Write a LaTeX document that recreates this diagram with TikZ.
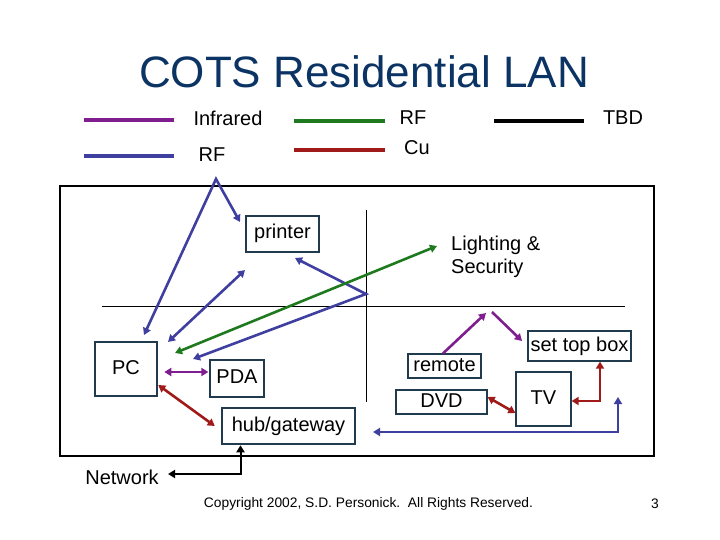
\documentclass[tikz,border=0pt]{standalone}
\usepackage{fontspec}
\setmainfont{Liberation Sans}
\usetikzlibrary{arrows.meta}
\definecolor{titleblue}{HTML}{0B3363}
\definecolor{irpurple}{HTML}{7F1F8F}
\definecolor{rfblue}{HTML}{3F3FA0}
\definecolor{rfgreen}{HTML}{1F7A1F}
\definecolor{cured}{HTML}{A01A1A}
\definecolor{boxedge}{HTML}{1F3B4D}

\begin{document}
\begin{tikzpicture}[x=1pt,y=-1pt,
    >={Triangle[length=7pt,width=8pt]},
    lbl/.style={font=\fontsize{20}{23}\selectfont},
    devbox/.style={lbl,draw=boxedge,line width=1.2pt,inner sep=0pt,
        text height=14pt,text depth=4pt},
    hostbox/.style={devbox,line width=2.5pt},
    keyline/.style={line width=3.5pt},
    irlink/.style={draw=irpurple,line width=2.6pt},
    rflink/.style={draw=rfblue,line width=2.6pt},
    rfglink/.style={draw=rfgreen,line width=2.6pt},
    culink/.style={draw=cured,line width=2.6pt}]
\useasboundingbox (0,0) rectangle (720,540);
% title
\node[text=titleblue,font=\fontsize{44}{50}\selectfont] (title) at (364,72) {COTS Residential LAN};
% legend
\draw[keyline,irpurple] (84,120) -- (174,120);
\node[lbl] (kir) at (228,118) {Infrared};
\draw[keyline,rfblue] (84,156) -- (174,156);
\node[lbl] (krf) at (212,155) {RF};
\draw[keyline,rfgreen] (294,121) -- (385,121);
\node[lbl] (krfg) at (413,118) {RF};
\draw[keyline,cured] (294,150) -- (385,150);
\node[lbl] (kcu) at (417,148) {Cu};
\draw[keyline,black] (494,121) -- (584,121);
\node[lbl] (ktbd) at (623,118) {TBD};
% house and its quarters
\draw[line width=1.8pt] (60,186) rectangle (654,456);
\draw[line width=1pt] (366,210) -- (366,402);
\draw[line width=1pt] (102,306) -- (625,306);
% devices
\node[devbox,minimum width=73pt,minimum height=36pt] (printer) at (282.5,234) {printer};
\node[hostbox,minimum width=62pt,minimum height=54pt] (pc) at (126,369) {PC};
\node[devbox,minimum width=54pt,minimum height=37pt] (pda) at (237,378.5) {PDA};
\node[hostbox,minimum width=133pt,minimum height=36pt] (hub) at (288.5,426) {hub/gateway};
\node[lbl,align=left,anchor=west,inner sep=0pt] (lighting) at (451,256.5) {Lighting \&\\Security};
\node[devbox,minimum width=73pt,minimum height=24pt] (remote) at (444.5,366) {remote};
\node[devbox,minimum width=103pt,minimum height=30pt] (stb) at (579.5,346) {set top box};
\node[devbox,minimum width=91pt,minimum height=24pt] (dvd) at (441.5,402) {DVD};
\node[devbox,minimum width=55pt,minimum height=54pt] (tv) at (543.5,399) {TV};
\node[lbl] (network) at (122,477) {Network};
% free ends of the links
\coordinate (rfpeak) at (216,179);
\coordinate (pctop) at (144,335);
\coordinate (prleft) at (240,222);
\coordinate (prlow) at (245,270);
\coordinate (pcne) at (168,342);
\coordinate (rfbend) at (366,294);
\coordinate (prright) at (295,258);
\coordinate (pceast) at (193,359);
\coordinate (pcgreen) at (175,353);
\coordinate (lightw) at (437,246);
\coordinate (irpeakl) at (486,313);
\coordinate (irpeakr) at (492,312);
\coordinate (stbin) at (522,341);
\coordinate (netend) at (168,474);
\coordinate (hubin) at (373,432);
\coordinate (rfcorner) at (618,432);
\coordinate (rftop) at (618,397);
% links
\draw[rflink,<->] (pctop) -- (rfpeak) -- (prleft);
\draw[rflink,<->] (prlow) -- (pcne);
\draw[rflink,<->] (prright) -- (rfbend) -- (pceast);
\draw[rfglink,<->] (pcgreen) -- (lightw);
\draw[irlink,<->] ([xshift=6pt,yshift=-3pt]pc.east) -- ([xshift=-1pt,yshift=6.5pt]pda.west);
\draw[culink,<->] ([yshift=-16pt]pc.east) -- ([xshift=-6pt]hub.west);
\draw[line width=2pt,<->] ([xshift=-48pt]hub.south) |- (netend);
\draw[irlink,->] ([xshift=-1.5pt]remote.north) -- (irpeakl);
\draw[irlink,->] (irpeakr) -- (stbin);
\draw[culink,<->] ([yshift=5pt]dvd.east) -- ([yshift=-14pt]tv.west);
\draw[culink,<->] ([yshift=-2pt]tv.east) -| ([xshift=20.5pt]stb.south);
\draw[rflink,<->] (rftop) -- (rfcorner) -- (hubin);
% footer
\node[font=\fontsize{13.8}{16}\selectfont] (copy) at (368.5,504) {Copyright 2002, S.D. Personick.\ \ All Rights Reserved.};
\node[font=\fontsize{13.8}{16}\selectfont] (page) at (655,504) {3};
\end{tikzpicture}
\end{document}
